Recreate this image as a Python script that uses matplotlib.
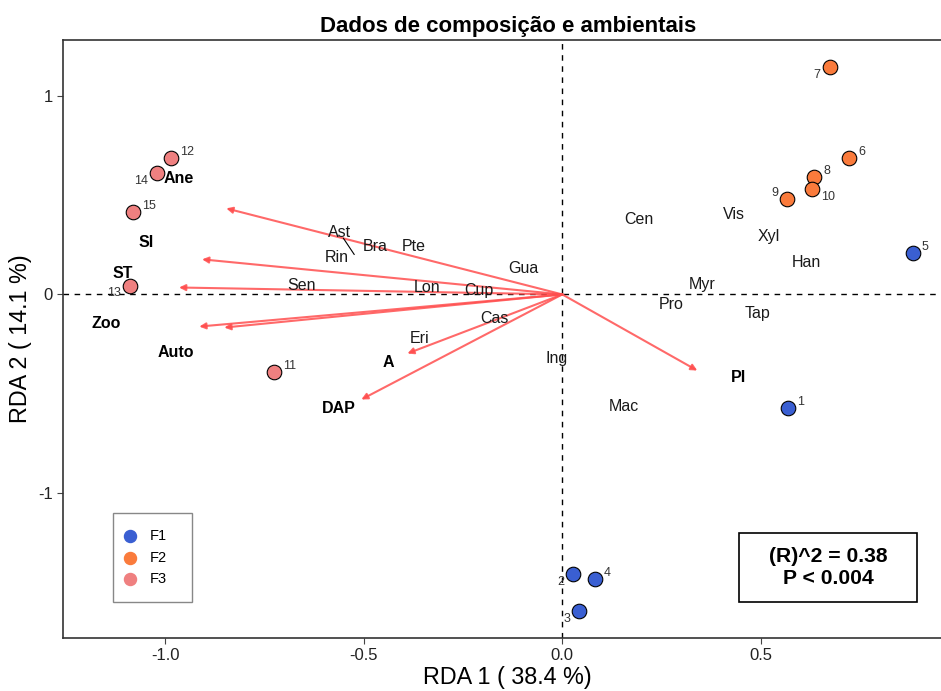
import numpy as np
import matplotlib.pyplot as plt
from matplotlib.patches import Rectangle

plt.rcParams['font.family'] = ['Liberation Sans', 'DejaVu Sans']
plt.rcParams['axes.unicode_minus'] = False

# site scores (RDA1, RDA2) and group
sites = ['1', '2', '3', '4', '5', '6', '7', '8', '9', '10', '11', '12', '13', '14', '15']
site_x = [0.569, 0.028, 0.043, 0.083, 0.882, 0.723, 0.673, 0.635, 0.567, 0.630,
          -0.725, -0.985, -1.088, -1.020, -1.081]
site_y = [-0.571, -1.409, -1.596, -1.434, 0.207, 0.687, 1.146, 0.591, 0.480, 0.530,
          -0.389, 0.687, 0.045, 0.611, 0.414]
site_grp = ['F1', 'F1', 'F1', 'F1', 'F1', 'F2', 'F2', 'F2', 'F2', 'F2',
            'F3', 'F3', 'F3', 'F3', 'F3']

# species scores
species = ['Ast', 'Rin', 'Bra', 'Pte', 'Gua', 'Sen', 'Lon', 'Cup', 'Cas', 'Eri', 'Ing',
           'Mac', 'Cen', 'Vis', 'Xyl', 'Han', 'Myr', 'Pro', 'Tap']
sp_x = [-0.562, -0.569, -0.471, -0.375, -0.098, -0.657, -0.340, -0.209, -0.171, -0.360,
        -0.013, 0.154, 0.194, 0.433, 0.519, 0.615, 0.353, 0.275, 0.491]
sp_y = [0.313, 0.187, 0.242, 0.242, 0.131, 0.045, 0.035, 0.020, -0.121, -0.222,
        -0.323, -0.566, 0.379, 0.404, 0.293, 0.162, 0.051, -0.051, -0.096]

# environmental / trait vectors (arrow tips) and their labels
env = ['Ane', 'SI', 'ST', 'Zoo', 'Auto', 'A', 'DAP', 'PI']
env_x = [-0.846, -0.907, -0.965, -0.914, -0.851, -0.390, -0.506, 0.340]
env_y = [0.434, 0.177, 0.035, -0.162, -0.167, -0.298, -0.530, -0.384]
env_lab_x = [-0.967, -1.048, -1.108, -1.149, -0.972, -0.438, -0.562, 0.443]
env_lab_y = [0.586, 0.263, 0.106, -0.146, -0.293, -0.343, -0.576, -0.419]

r2 = 0.38
pval = 0.004

colors = {'F1': '#3A5FD2', 'F2': '#FA7B3C', 'F3': '#EF8080'}
# where each site number sits relative to its point
num_pos = {'1': 'ur', '2': 'll', '3': 'll', '4': 'ur', '5': 'ur', '6': 'ur', '7': 'll',
           '8': 'ur', '9': 'ul', '10': 'lr', '11': 'ur', '12': 'ur', '13': 'll',
           '14': 'll', '15': 'ur'}

fig = plt.figure(figsize=(9.41, 6.91), dpi=100)
# plot box runs slightly past the right edge of the figure
ax = fig.add_axes([0.067, 0.077, 0.945, 0.865])
ax.set_xlim(-1.257, 0.982)
ax.set_ylim(-1.732, 1.283)

ax.axhline(0, color='black', ls=(0, (4, 4)), lw=1, zorder=1)
ax.axvline(0, color='black', ls=(0, (4, 4)), lw=1, zorder=1)

for x, y in zip(env_x, env_y):
    ax.annotate('', xy=(x, y), xytext=(0, 0),
                arrowprops=dict(arrowstyle='-|>', color='#FF4F4F', lw=1.5,
                                alpha=0.85, mutation_scale=9, shrinkA=0, shrinkB=0),
                zorder=2)

for n, x, y in zip(species, sp_x, sp_y):
    ax.text(x, y, n, fontsize=11.5, ha='center', va='center', color='#1a1a1a', zorder=3)
# leader line Ast - Rin
ax.plot([-0.551, -0.524], [0.283, 0.202], color='black', lw=0.8, zorder=3)

for n, x, y in zip(env, env_lab_x, env_lab_y):
    ax.text(x, y, n, fontsize=11.5, fontweight='bold', ha='center', va='center', zorder=3)

for s, x, y, g in zip(sites, site_x, site_y, site_grp):
    ax.scatter(x, y, s=110, color=colors[g], edgecolor='black', linewidth=0.8, zorder=4)
    p = num_pos[s]
    dx = 0.022 if p[1] == 'r' else -0.022
    dy = 0.03 if p[0] == 'u' else -0.04
    ax.text(x + dx, y + dy, s, fontsize=9, color='#333333',
            ha='left' if p[1] == 'r' else 'right', va='center', zorder=4)

# legend box (figure-pixel based positions converted to axes fractions)
to_ax = ax.transAxes.inverted()
lx0, ly0 = to_ax.transform((113, 691 - 602))
lx1, ly1 = to_ax.transform((192, 691 - 513))
ax.add_patch(Rectangle((lx0, ly0), lx1 - lx0, ly1 - ly0, transform=ax.transAxes,
                       facecolor='white', edgecolor='#888888', lw=1, zorder=5))
for i, g in enumerate(['F1', 'F2', 'F3']):
    yy = ly1 - (ly1 - ly0) * (0.26 + i * 0.24)
    ax.scatter(lx0 + (lx1 - lx0) * 0.22, yy, s=75, color=colors[g],
               transform=ax.transAxes, zorder=6)
    ax.text(lx0 + (lx1 - lx0) * 0.46, yy, g, fontsize=10.5, va='center',
            transform=ax.transAxes, zorder=6)

# stats box
bx0, by0 = to_ax.transform((739, 691 - 602))
bx1, by1 = to_ax.transform((917, 691 - 533))
ax.add_patch(Rectangle((bx0, by0), bx1 - bx0, by1 - by0, transform=ax.transAxes,
                       facecolor='white', edgecolor='black', lw=1.2, zorder=5))
ax.text((bx0 + bx1) / 2, (by0 + by1) / 2, f'(R)^2 = {r2}\nP < {pval}',
        transform=ax.transAxes, fontsize=15.2, fontweight='bold', ha='center',
        va='center', linespacing=1.15, zorder=6)

ax.set_xticks([-1.0, -0.5, 0.0, 0.5])
ax.set_xticklabels(['-1.0', '-0.5', '0.0', '0.5'])
ax.set_yticks([-1, 0, 1])
ax.tick_params(labelsize=12, length=4, color='#444444', labelcolor='#222222')
ax.spines['right'].set_visible(False)
for sp in ['left', 'bottom', 'top']:
    ax.spines[sp].set_color('#333333')
    ax.spines[sp].set_linewidth(1.2)

ax.set_xlabel('RDA 1 ( 38.4 %)', fontsize=16.8, labelpad=2)
ax.set_ylabel('RDA 2 ( 14.1 %)', fontsize=16.8, labelpad=4)
ax.set_title('Dados de composição e ambientais', fontsize=16, fontweight='bold', pad=6)

fig.savefig('out.png', dpi=100)
